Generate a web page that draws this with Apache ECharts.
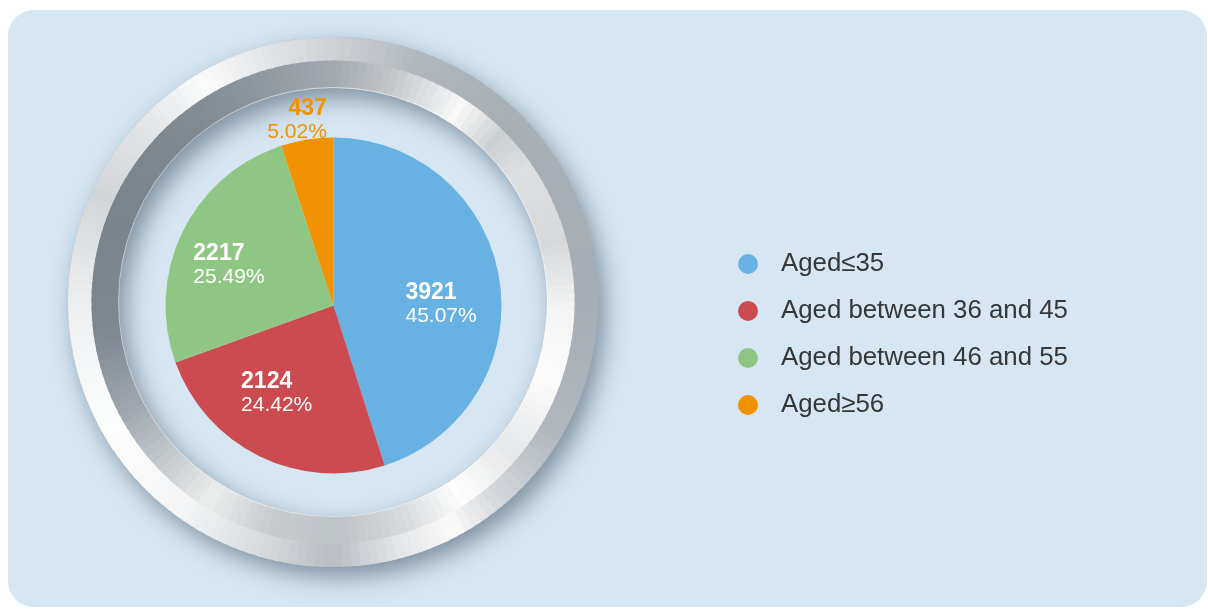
<!DOCTYPE html>
<html>
<head>
<meta charset="utf-8">
<script src="https://cdn.jsdelivr.net/npm/echarts@6/dist/echarts.min.js"></script>
<style>
html, body { margin: 0; padding: 0; background: #fff; }
#main { width: 1208px; height: 609px; }
</style>
</head>
<body>
<div id="main"></div>
<script>
// data
var ageNames = ['Aged≤35', 'Aged between 36 and 45', 'Aged between 46 and 55', 'Aged≥56'];
var headcount = [3921, 2124, 2217, 437];

// styles
var sliceColors = ['#67b2e3', '#cb4b50', '#8fc684', '#f39200'];
var labelColors = ['#ffffff', '#ffffff', '#ffffff', '#f39200'];
var labelAlign = ['left', 'left', 'left', 'right'];
var labelShift = [[-14, 12], [-54, 10], [-62, -2], [7, -99]];

var bg = '#d6e7f3';
var ringX = 333, ringY = 302;

// metal ring colour stops, angle clockwise from 12 o'clock
var outerStops = [[0, '#cfd2d5'], [20, '#b0b6bb'], [45, '#a8afb5'], [90, '#a6adb4'], [120, '#b0b6bc'],
  [140, '#d4d7da'], [152, '#fafafa'], [165, '#e4e6e8'], [180, '#b8bdc2'], [195, '#d5d8db'],
  [215, '#f3f4f5'], [240, '#fdfdfd'], [270, '#eceef0'], [295, '#d2d5d8'], [315, '#e4e6e8'],
  [330, '#fbfbfb'], [345, '#e2e4e6'], [360, '#cfd2d5']];
var innerStops = [[0, '#a3a9af'], [15, '#c4c7ca'], [33, '#f8f8f8'], [45, '#cdd0d2'], [55, '#dcdee0'],
  [75, '#d6d8da'], [92, '#f4f4f4'], [110, '#fbfbfb'], [130, '#e6e7e8'], [147, '#fdfdfd'],
  [162, '#d8dadc'], [178, '#bfc4c8'], [195, '#c6cacd'], [212, '#eceded'], [225, '#c9cdd0'],
  [242, '#a0a7ae'], [262, '#7f8890'], [290, '#7a848d'], [320, '#80898f'], [340, '#8e969d'], [360, '#a3a9af']];

function rgb(h) {
  return [parseInt(h.substr(1, 2), 16), parseInt(h.substr(3, 2), 16), parseInt(h.substr(5, 2), 16)];
}
function colorAt(stops, a) {
  for (var i = 1; i < stops.length; i++) {
    if (a <= stops[i][0]) {
      var t = (a - stops[i - 1][0]) / (stops[i][0] - stops[i - 1][0]);
      var c0 = rgb(stops[i - 1][1]), c1 = rgb(stops[i][1]);
      return 'rgb(' + c0.map(function (v, k) { return Math.round(v + (c1[k] - v) * t); }).join(',') + ')';
    }
  }
  return stops[stops.length - 1][1];
}
function band(stops, r0, r) {
  var out = [];
  for (var a = 0; a < 360; a += 2) {
    out.push({
      type: 'sector', silent: true,
      shape: {
        cx: ringX, cy: ringY, r0: r0, r: r,
        startAngle: (a - 90) * Math.PI / 180,
        endAngle: (a + 2.8 - 90) * Math.PI / 180,
        clockwise: true
      },
      style: { fill: colorAt(stops, a + 1) }
    });
  }
  return out;
}

var graphics = [
  { type: 'rect', silent: true, shape: { x: 8, y: 10, width: 1199, height: 597, r: 26 }, style: { fill: bg } },
  {
    type: 'ring', silent: true,
    shape: { cx: ringX, cy: ringY, r0: 214, r: 265 },
    style: { fill: '#a0a8b0', shadowBlur: 24, shadowOffsetX: 7, shadowOffsetY: 10, shadowColor: 'rgba(40,60,80,0.5)' }
  }
].concat(band(outerStops, 240, 265), band(innerStops, 214, 241.5), [
  {
    type: 'circle', silent: true,
    shape: { cx: ringX, cy: ringY, r: 214.5 },
    style: { fill: null, stroke: 'rgba(255,255,255,0.55)', lineWidth: 1 }
  }
]);

var chart = echarts.init(document.getElementById('main'));
chart.setOption({
  animation: false,
  graphic: graphics,
  legend: {
    orient: 'vertical',
    left: 733,
    top: 246,
    icon: 'circle',
    itemWidth: 20,
    itemHeight: 20,
    itemGap: 21,
    selectedMode: false,
    textStyle: {
      fontFamily: 'Liberation Sans',
      fontSize: 25.8,
      color: '#363636',
      padding: [0, 0, 0, 18]
    },
    data: ageNames
  },
  series: [
    {
      type: 'pie',
      center: [333.5, 305.5],
      radius: 168,
      startAngle: 90,
      clockwise: true,
      silent: true,
      label: {
        show: true,
        position: 'inside',
        fontFamily: 'Liberation Sans',
        formatter: '{v|{c}}\n{p|{d}%}',
        rich: {
          v: { fontSize: 23, fontWeight: 'bold', lineHeight: 24, fontFamily: 'Liberation Sans' },
          p: { fontSize: 21, lineHeight: 23, fontFamily: 'Liberation Sans' }
        }
      },
      labelLine: { show: false },
      labelLayout: function (params) {
        var i = params.dataIndex;
        return { dx: labelShift[i][0], dy: labelShift[i][1], align: labelAlign[i] };
      },
      data: ageNames.map(function (n, i) {
        return {
          name: n,
          value: headcount[i],
          itemStyle: { color: sliceColors[i] },
          label: { color: labelColors[i] }
        };
      })
    }
  ]
});
</script>
</body>
</html>
